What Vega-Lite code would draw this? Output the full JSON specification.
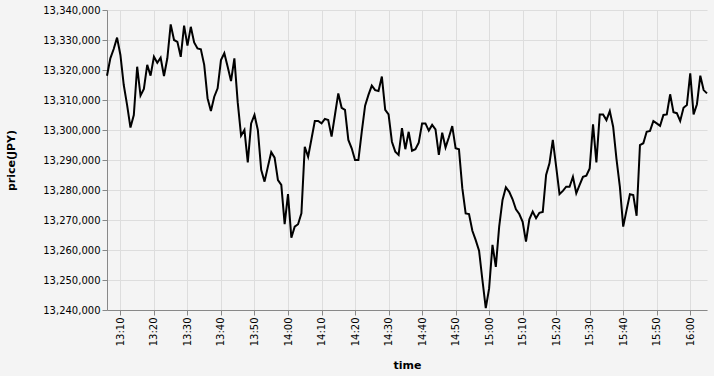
{
  "$schema": "https://vega.github.io/schema/vega-lite/v6.json",
  "width": 600,
  "height": 300,
  "background": "#f4f4f4",
  "config": {"font": "DejaVu Sans", "view": {"stroke": null}},
  "data": {"values": [
    {"time":"2024-01-01T13:06:00","price":13318100},
    {"time":"2024-01-01T13:07:00","price":13323900},
    {"time":"2024-01-01T13:08:00","price":13327000},
    {"time":"2024-01-01T13:09:00","price":13330800},
    {"time":"2024-01-01T13:10:00","price":13325000},
    {"time":"2024-01-01T13:11:00","price":13315000},
    {"time":"2024-01-01T13:12:00","price":13308300},
    {"time":"2024-01-01T13:13:00","price":13300800},
    {"time":"2024-01-01T13:14:00","price":13305000},
    {"time":"2024-01-01T13:15:00","price":13321100},
    {"time":"2024-01-01T13:16:00","price":13311500},
    {"time":"2024-01-01T13:17:00","price":13313700},
    {"time":"2024-01-01T13:18:00","price":13321700},
    {"time":"2024-01-01T13:19:00","price":13318100},
    {"time":"2024-01-01T13:20:00","price":13324400},
    {"time":"2024-01-01T13:21:00","price":13322400},
    {"time":"2024-01-01T13:22:00","price":13324100},
    {"time":"2024-01-01T13:23:00","price":13318000},
    {"time":"2024-01-01T13:24:00","price":13323900},
    {"time":"2024-01-01T13:25:00","price":13335200},
    {"time":"2024-01-01T13:26:00","price":13330000},
    {"time":"2024-01-01T13:27:00","price":13329400},
    {"time":"2024-01-01T13:28:00","price":13324400},
    {"time":"2024-01-01T13:29:00","price":13334800},
    {"time":"2024-01-01T13:30:00","price":13328100},
    {"time":"2024-01-01T13:31:00","price":13334400},
    {"time":"2024-01-01T13:32:00","price":13329200},
    {"time":"2024-01-01T13:33:00","price":13327200},
    {"time":"2024-01-01T13:34:00","price":13326900},
    {"time":"2024-01-01T13:35:00","price":13321700},
    {"time":"2024-01-01T13:36:00","price":13310600},
    {"time":"2024-01-01T13:37:00","price":13306300},
    {"time":"2024-01-01T13:38:00","price":13311100},
    {"time":"2024-01-01T13:39:00","price":13313900},
    {"time":"2024-01-01T13:40:00","price":13323300},
    {"time":"2024-01-01T13:41:00","price":13325600},
    {"time":"2024-01-01T13:42:00","price":13321100},
    {"time":"2024-01-01T13:43:00","price":13316300},
    {"time":"2024-01-01T13:44:00","price":13323900},
    {"time":"2024-01-01T13:45:00","price":13309200},
    {"time":"2024-01-01T13:46:00","price":13298100},
    {"time":"2024-01-01T13:47:00","price":13300000},
    {"time":"2024-01-01T13:48:00","price":13289200},
    {"time":"2024-01-01T13:49:00","price":13302200},
    {"time":"2024-01-01T13:50:00","price":13305000},
    {"time":"2024-01-01T13:51:00","price":13300000},
    {"time":"2024-01-01T13:52:00","price":13286700},
    {"time":"2024-01-01T13:53:00","price":13282800},
    {"time":"2024-01-01T13:54:00","price":13287800},
    {"time":"2024-01-01T13:55:00","price":13292600},
    {"time":"2024-01-01T13:56:00","price":13290800},
    {"time":"2024-01-01T13:57:00","price":13283300},
    {"time":"2024-01-01T13:58:00","price":13281700},
    {"time":"2024-01-01T13:59:00","price":13268600},
    {"time":"2024-01-01T14:00:00","price":13278600},
    {"time":"2024-01-01T14:01:00","price":13264100},
    {"time":"2024-01-01T14:02:00","price":13267800},
    {"time":"2024-01-01T14:03:00","price":13268600},
    {"time":"2024-01-01T14:04:00","price":13272200},
    {"time":"2024-01-01T14:05:00","price":13294400},
    {"time":"2024-01-01T14:06:00","price":13291100},
    {"time":"2024-01-01T14:07:00","price":13297000},
    {"time":"2024-01-01T14:08:00","price":13303000},
    {"time":"2024-01-01T14:09:00","price":13303000},
    {"time":"2024-01-01T14:10:00","price":13302200},
    {"time":"2024-01-01T14:11:00","price":13303700},
    {"time":"2024-01-01T14:12:00","price":13303300},
    {"time":"2024-01-01T14:13:00","price":13297800},
    {"time":"2024-01-01T14:14:00","price":13305000},
    {"time":"2024-01-01T14:15:00","price":13312200},
    {"time":"2024-01-01T14:16:00","price":13307400},
    {"time":"2024-01-01T14:17:00","price":13306700},
    {"time":"2024-01-01T14:18:00","price":13296700},
    {"time":"2024-01-01T14:19:00","price":13293900},
    {"time":"2024-01-01T14:20:00","price":13290000},
    {"time":"2024-01-01T14:21:00","price":13290000},
    {"time":"2024-01-01T14:22:00","price":13299400},
    {"time":"2024-01-01T14:23:00","price":13308100},
    {"time":"2024-01-01T14:24:00","price":13311700},
    {"time":"2024-01-01T14:25:00","price":13314800},
    {"time":"2024-01-01T14:26:00","price":13313300},
    {"time":"2024-01-01T14:27:00","price":13313000},
    {"time":"2024-01-01T14:28:00","price":13317800},
    {"time":"2024-01-01T14:29:00","price":13306700},
    {"time":"2024-01-01T14:30:00","price":13305200},
    {"time":"2024-01-01T14:31:00","price":13296100},
    {"time":"2024-01-01T14:32:00","price":13292800},
    {"time":"2024-01-01T14:33:00","price":13291700},
    {"time":"2024-01-01T14:34:00","price":13300600},
    {"time":"2024-01-01T14:35:00","price":13293600},
    {"time":"2024-01-01T14:36:00","price":13299400},
    {"time":"2024-01-01T14:37:00","price":13293100},
    {"time":"2024-01-01T14:38:00","price":13293600},
    {"time":"2024-01-01T14:39:00","price":13295800},
    {"time":"2024-01-01T14:40:00","price":13302200},
    {"time":"2024-01-01T14:41:00","price":13302200},
    {"time":"2024-01-01T14:42:00","price":13299800},
    {"time":"2024-01-01T14:43:00","price":13301700},
    {"time":"2024-01-01T14:44:00","price":13300200},
    {"time":"2024-01-01T14:45:00","price":13291700},
    {"time":"2024-01-01T14:46:00","price":13299100},
    {"time":"2024-01-01T14:47:00","price":13294200},
    {"time":"2024-01-01T14:48:00","price":13297600},
    {"time":"2024-01-01T14:49:00","price":13301300},
    {"time":"2024-01-01T14:50:00","price":13293900},
    {"time":"2024-01-01T14:51:00","price":13293600},
    {"time":"2024-01-01T14:52:00","price":13280600},
    {"time":"2024-01-01T14:53:00","price":13272200},
    {"time":"2024-01-01T14:54:00","price":13272000},
    {"time":"2024-01-01T14:55:00","price":13266400},
    {"time":"2024-01-01T14:56:00","price":13263300},
    {"time":"2024-01-01T14:57:00","price":13259800},
    {"time":"2024-01-01T14:58:00","price":13250000},
    {"time":"2024-01-01T14:59:00","price":13240600},
    {"time":"2024-01-01T15:00:00","price":13247200},
    {"time":"2024-01-01T15:01:00","price":13261700},
    {"time":"2024-01-01T15:02:00","price":13254400},
    {"time":"2024-01-01T15:03:00","price":13267800},
    {"time":"2024-01-01T15:04:00","price":13276700},
    {"time":"2024-01-01T15:05:00","price":13280900},
    {"time":"2024-01-01T15:06:00","price":13279400},
    {"time":"2024-01-01T15:07:00","price":13276900},
    {"time":"2024-01-01T15:08:00","price":13273600},
    {"time":"2024-01-01T15:09:00","price":13272000},
    {"time":"2024-01-01T15:10:00","price":13269400},
    {"time":"2024-01-01T15:11:00","price":13262800},
    {"time":"2024-01-01T15:12:00","price":13270200},
    {"time":"2024-01-01T15:13:00","price":13272800},
    {"time":"2024-01-01T15:14:00","price":13270600},
    {"time":"2024-01-01T15:15:00","price":13272400},
    {"time":"2024-01-01T15:16:00","price":13272700},
    {"time":"2024-01-01T15:17:00","price":13285000},
    {"time":"2024-01-01T15:18:00","price":13288900},
    {"time":"2024-01-01T15:19:00","price":13296700},
    {"time":"2024-01-01T15:20:00","price":13287800},
    {"time":"2024-01-01T15:21:00","price":13278600},
    {"time":"2024-01-01T15:22:00","price":13279700},
    {"time":"2024-01-01T15:23:00","price":13281100},
    {"time":"2024-01-01T15:24:00","price":13281100},
    {"time":"2024-01-01T15:25:00","price":13284400},
    {"time":"2024-01-01T15:26:00","price":13278900},
    {"time":"2024-01-01T15:27:00","price":13281700},
    {"time":"2024-01-01T15:28:00","price":13284400},
    {"time":"2024-01-01T15:29:00","price":13284800},
    {"time":"2024-01-01T15:30:00","price":13287200},
    {"time":"2024-01-01T15:31:00","price":13301900},
    {"time":"2024-01-01T15:32:00","price":13289200},
    {"time":"2024-01-01T15:33:00","price":13305200},
    {"time":"2024-01-01T15:34:00","price":13305200},
    {"time":"2024-01-01T15:35:00","price":13303300},
    {"time":"2024-01-01T15:36:00","price":13306300},
    {"time":"2024-01-01T15:37:00","price":13301100},
    {"time":"2024-01-01T15:38:00","price":13290300},
    {"time":"2024-01-01T15:39:00","price":13281100},
    {"time":"2024-01-01T15:40:00","price":13267800},
    {"time":"2024-01-01T15:41:00","price":13273300},
    {"time":"2024-01-01T15:42:00","price":13278600},
    {"time":"2024-01-01T15:43:00","price":13278300},
    {"time":"2024-01-01T15:44:00","price":13271400},
    {"time":"2024-01-01T15:45:00","price":13295000},
    {"time":"2024-01-01T15:46:00","price":13295600},
    {"time":"2024-01-01T15:47:00","price":13299400},
    {"time":"2024-01-01T15:48:00","price":13299700},
    {"time":"2024-01-01T15:49:00","price":13303000},
    {"time":"2024-01-01T15:50:00","price":13302200},
    {"time":"2024-01-01T15:51:00","price":13301400},
    {"time":"2024-01-01T15:52:00","price":13305000},
    {"time":"2024-01-01T15:53:00","price":13305200},
    {"time":"2024-01-01T15:54:00","price":13311900},
    {"time":"2024-01-01T15:55:00","price":13305900},
    {"time":"2024-01-01T15:56:00","price":13305600},
    {"time":"2024-01-01T15:57:00","price":13303000},
    {"time":"2024-01-01T15:58:00","price":13307400},
    {"time":"2024-01-01T15:59:00","price":13308300},
    {"time":"2024-01-01T16:00:00","price":13318900},
    {"time":"2024-01-01T16:01:00","price":13305200},
    {"time":"2024-01-01T16:02:00","price":13308600},
    {"time":"2024-01-01T16:03:00","price":13318100},
    {"time":"2024-01-01T16:04:00","price":13313300},
    {"time":"2024-01-01T16:05:00","price":13312200}
  ]},
  "mark": {"type": "line", "color": "black", "strokeWidth": 2},
  "encoding": {
    "x": {
      "field": "time",
      "type": "temporal",
      "title": "time",
      "axis": {
        "format": "%H:%M",
        "labelAngle": 270,
        "values": [
          {"year":2024,"month":1,"date":1,"hours":13,"minutes":10},
          {"year":2024,"month":1,"date":1,"hours":13,"minutes":20},
          {"year":2024,"month":1,"date":1,"hours":13,"minutes":30},
          {"year":2024,"month":1,"date":1,"hours":13,"minutes":40},
          {"year":2024,"month":1,"date":1,"hours":13,"minutes":50},
          {"year":2024,"month":1,"date":1,"hours":14,"minutes":0},
          {"year":2024,"month":1,"date":1,"hours":14,"minutes":10},
          {"year":2024,"month":1,"date":1,"hours":14,"minutes":20},
          {"year":2024,"month":1,"date":1,"hours":14,"minutes":30},
          {"year":2024,"month":1,"date":1,"hours":14,"minutes":40},
          {"year":2024,"month":1,"date":1,"hours":14,"minutes":50},
          {"year":2024,"month":1,"date":1,"hours":15,"minutes":0},
          {"year":2024,"month":1,"date":1,"hours":15,"minutes":10},
          {"year":2024,"month":1,"date":1,"hours":15,"minutes":20},
          {"year":2024,"month":1,"date":1,"hours":15,"minutes":30},
          {"year":2024,"month":1,"date":1,"hours":15,"minutes":40},
          {"year":2024,"month":1,"date":1,"hours":15,"minutes":50},
          {"year":2024,"month":1,"date":1,"hours":16,"minutes":0}
        ],
        "titlePadding": 14
      }
    },
    "y": {
      "field": "price",
      "type": "quantitative",
      "title": "price(JPY)",
      "scale": {"domain": [13240000, 13340000], "zero": false},
      "axis": {"titlePadding": 26}
    }
  }
}
